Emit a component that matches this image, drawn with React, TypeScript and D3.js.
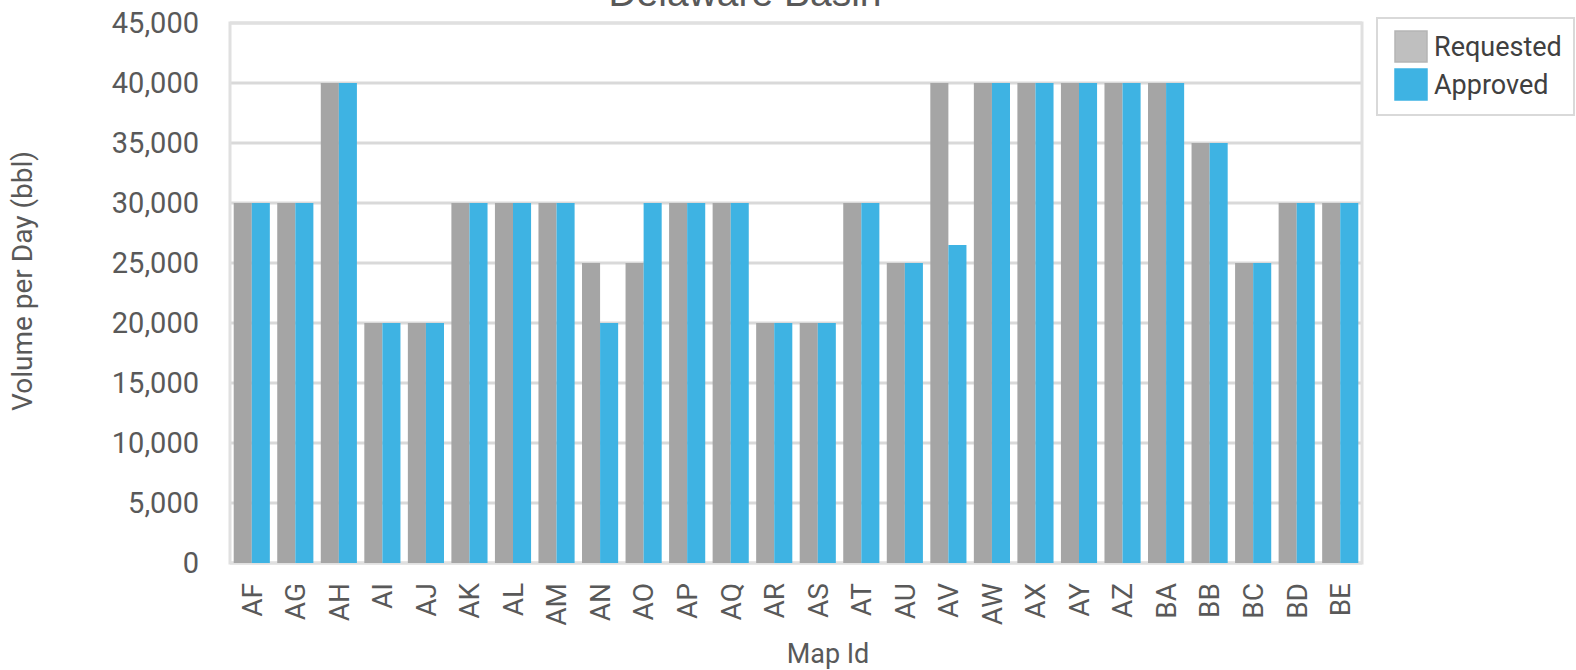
import React from "react"
import * as d3 from "d3"

const width = 1576
const height = 670
const margin = { top: 23, right: 214, bottom: 107, left: 230 }

const mapIds = [
  "AF", "AG", "AH", "AI", "AJ", "AK", "AL", "AM", "AN", "AO", "AP", "AQ", "AR",
  "AS", "AT", "AU", "AV", "AW", "AX", "AY", "AZ", "BA", "BB", "BC", "BD", "BE",
]
const requested = [
  30000, 30000, 40000, 20000, 20000, 30000, 30000, 30000, 25000, 25000, 30000, 30000, 20000,
  20000, 30000, 25000, 40000, 40000, 40000, 40000, 40000, 40000, 35000, 25000, 30000, 30000,
]
const approved = [
  30000, 30000, 40000, 20000, 20000, 30000, 30000, 30000, 20000, 30000, 30000, 30000, 20000,
  20000, 30000, 25000, 26500, 40000, 40000, 40000, 40000, 40000, 35000, 25000, 30000, 30000,
]
const yTicks = [0, 5000, 10000, 15000, 20000, 25000, 30000, 35000, 40000, 45000]
const seriesNames = ["Requested", "Approved"]

const barColors = ["#a5a5a5", "#3eb3e3"]
const swatchColors = ["#bfbfbf", "#3eb3e3"]
const font = "Roboto, 'Noto Sans', sans-serif"
const textColor = "#595959"

export default function App() {
  const innerW = width - margin.left - margin.right
  const innerH = height - margin.top - margin.bottom

  const x = d3.scaleBand<string>()
    .domain(mapIds)
    .range([0, innerW])
    .paddingInner(0.17)
    .paddingOuter(0.085)
  const half = x.bandwidth() / 2
  const y = d3.scaleLinear().domain([0, 45000]).range([innerH, 0])
  const fmt = d3.format(",")

  const series = [requested, approved]

  return (
    <svg width={width} height={height} style={{ position: "absolute", left: 0, top: 0, background: "#fff" }}>
      <text x={745} y={6} textAnchor="middle" fontFamily="'Liberation Sans', Arial, sans-serif" fontSize={39} fill={textColor}>
        Delaware Basin
      </text>
      <g transform={`translate(${margin.left}, ${margin.top})`}>
        {yTicks.map(t => (
          <g key={t}>
            <line x1={0} x2={innerW} y1={y(t)} y2={y(t)} stroke="#d9d9d9" strokeWidth={3} />
            <text x={-31} y={y(t)} dy="0.35em" textAnchor="end" fontFamily={font} fontSize={29} fill={textColor}>
              {fmt(t)}
            </text>
          </g>
        ))}
        <rect x={0} y={0} width={innerW} height={innerH} fill="none" stroke="#e0e0e0" strokeWidth={3} />
        {mapIds.map((id, i) => (
          <g key={id} transform={`translate(${x(id)}, 0)`}>
            {series.map((s, j) => (
              <rect key={j} x={j * half} y={y(s[i])} width={half} height={innerH - y(s[i])} fill={barColors[j]} />
            ))}
            <text
              transform={`translate(${x.bandwidth() / 2}, ${innerH + 20}) rotate(-90)`}
              dy="0.35em"
              textAnchor="end"
              fontFamily={font}
              fontSize={28}
              fill={textColor}
            >
              {id}
            </text>
          </g>
        ))}
      </g>
      <text
        transform={`translate(22, 281) rotate(-90)`}
        dy="0.35em"
        textAnchor="middle"
        fontFamily={font}
        fontSize={28}
        fill={textColor}
      >
        Volume per Day (bbl)
      </text>
      <text x={828} y={663} textAnchor="middle" fontFamily={font} fontSize={27} fill={textColor}>
        Map Id
      </text>
      <g>
        <rect x={1377} y={18} width={197} height={97} fill="#fff" stroke="#d9d9d9" strokeWidth={2} />
        {seriesNames.map((name, i) => (
          <g key={name} transform={`translate(1395, ${31 + i * 38})`}>
            <rect x={0} y={0} width={32} height={31} fill={swatchColors[i]} stroke={i === 0 ? "#b5b5b5" : "#3eb3e3"} strokeWidth={1.5} />
            <text x={39} y={15.5} dy="0.35em" fontFamily={font} fontSize={27} fill="#404040">
              {name}
            </text>
          </g>
        ))}
      </g>
    </svg>
  )
}
